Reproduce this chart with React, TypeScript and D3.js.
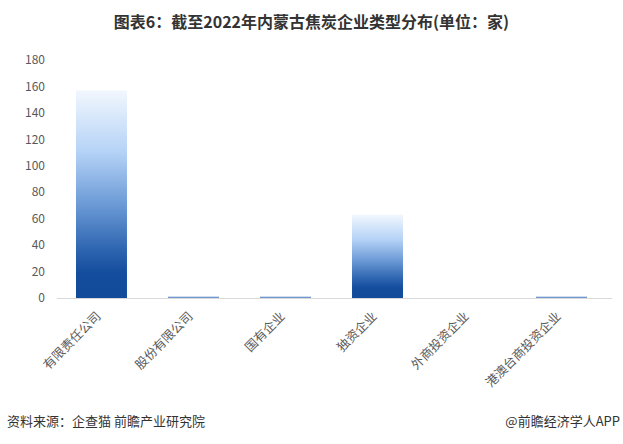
import React, { useEffect, useRef } from 'react';
import * as d3 from 'd3';

const categories = ['有限责任公司', '股份有限公司', '国有企业', '独资企业', '外商投资企业', '港澳台商投资企业'];
const counts = [157, 1, 1, 63, 0, 1];
const yTicks = [0, 20, 40, 60, 80, 100, 120, 140, 160, 180];

const title = '图表6：截至2022年内蒙古焦炭企业类型分布(单位：家)';
const source = '资料来源：企查猫 前瞻产业研究院';
const brand = '@前瞻经济学人APP';

export default function App() {
  const svgRef = useRef<SVGSVGElement | null>(null);

  useEffect(() => {
    if (!svgRef.current) return;
    const svg = d3.select(svgRef.current);
    svg.selectAll('*').remove();

    const width = 623;
    const height = 444;
    const margin = { top: 60, right: 11, bottom: 146, left: 57 };
    const font = '"Microsoft YaHei", "Noto Sans CJK SC", sans-serif';

    const x = d3.scaleBand().domain(categories).range([margin.left, 606]).paddingInner(0.446).paddingOuter(0.2065);
    const y = d3.scaleLinear().domain([0, 180]).range([height - margin.bottom, margin.top]);

    const defs = svg.append('defs');
    const grad = defs.append('linearGradient')
      .attr('id', 'barGrad')
      .attr('x1', 0).attr('y1', 0).attr('x2', 0).attr('y2', 1);
    const stops: [string, string][] = [
      ['0%', '#f2f7fe'],
      ['30%', '#b4d2f6'],
      ['55%', '#6b9ad6'],
      ['78%', '#2a62ae'],
      ['88%', '#154d9e'],
      ['100%', '#134b9b'],
    ];
    stops.forEach(([o, c]) => grad.append('stop').attr('offset', o).attr('stop-color', c));

    svg.append('rect').attr('width', width).attr('height', height).attr('fill', '#ffffff');

    // title
    svg.append('text')
      .attr('x', width / 2)
      .attr('y', 28)
      .attr('text-anchor', 'middle')
      .attr('font-family', font)
      .attr('font-size', 16)
      .attr('font-weight', 'bold')
      .attr('fill', '#333333')
      .text(title);

    // y axis labels
    svg.append('g')
      .selectAll('text')
      .data(yTicks)
      .join('text')
      .attr('x', 45)
      .attr('y', d => y(d))
      .attr('dy', '0.35em')
      .attr('text-anchor', 'end')
      .attr('font-family', font)
      .attr('font-size', 12)
      .attr('fill', '#595959')
      .text(d => d);

    // bars
    svg.append('g')
      .selectAll('rect')
      .data(categories.map((c, i) => ({ c, v: counts[i] })))
      .join('rect')
      .attr('x', d => x(d.c) ?? 0)
      .attr('y', d => y(d.v))
      .attr('width', x.bandwidth())
      .attr('height', d => y(0) - y(d.v))
      .attr('fill', d => (d.v > 5 ? 'url(#barGrad)' : '#6f98d0'));

    // x axis line
    svg.append('line')
      .attr('x1', margin.left)
      .attr('x2', width - margin.right)
      .attr('y1', y(0) + 0.5)
      .attr('y2', y(0) + 0.5)
      .attr('stroke', '#d9d9d9');

    // x labels rotated
    svg.append('g')
      .selectAll('text')
      .data(categories)
      .join('text')
      .attr('transform', d => `translate(${(x(d) ?? 0) + x.bandwidth() / 2 - 3},${y(0) + 16}) rotate(-45)`)
      .attr('text-anchor', 'end')
      .attr('dy', '0.35em')
      .attr('font-family', font)
      .attr('font-size', 12.5)
      .attr('fill', '#595959')
      .text(d => d);

    // footer
    svg.append('text')
      .attr('x', 7)
      .attr('y', 426)
      .attr('font-family', font)
      .attr('font-size', 13)
      .attr('fill', '#333333')
      .text(source);

    svg.append('text')
      .attr('x', 620)
      .attr('y', 426)
      .attr('text-anchor', 'end')
      .attr('font-family', font)
      .attr('font-size', 13)
      .attr('fill', '#333333')
      .text(brand);
  }, []);

  return (
    <div style={{ position: 'absolute', left: 0, top: 0 }}>
      <svg ref={svgRef} width={623} height={444} style={{ display: 'block' }}></svg>
    </div>
  );
}
